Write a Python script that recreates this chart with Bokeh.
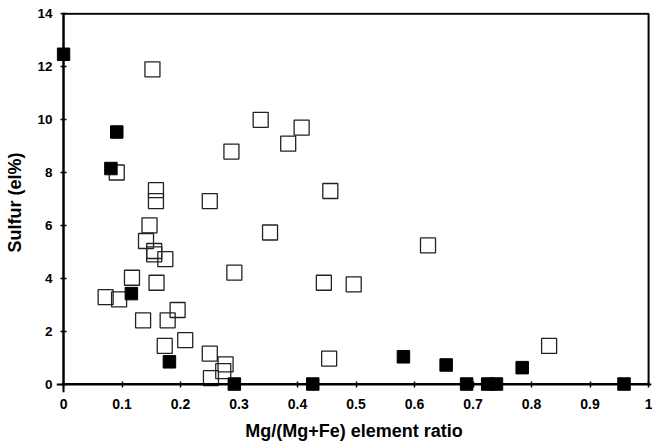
from bokeh.plotting import figure
from bokeh.models import FixedTicker, Range1d, BoxAnnotation, LinearAxis
from bokeh.embed import file_html
from bokeh.resources import INLINE

# Open squares
open_x = [0.152, 0.091, 0.158, 0.158, 0.250, 0.287, 0.337, 0.384, 0.407, 0.456,
          0.147, 0.141, 0.155, 0.155, 0.174, 0.117, 0.159, 0.072, 0.095, 0.136,
          0.178, 0.195, 0.208, 0.173, 0.250, 0.277, 0.273, 0.252, 0.292, 0.353,
          0.445, 0.454, 0.623, 0.496, 0.830]
open_y = [11.9, 8.0, 7.33, 6.92, 6.92, 8.79, 9.99, 9.09, 9.70, 7.30,
          6.0, 5.41, 5.03, 4.90, 4.72, 4.02, 3.83, 3.29, 3.20, 2.41,
          2.41, 2.80, 1.66, 1.44, 1.15, 0.74, 0.49, 0.22, 4.21, 5.73,
          3.83, 0.96, 5.24, 3.77, 1.44]

# Filled squares
fill_x = [0.0, 0.091, 0.081, 0.116, 0.181, 0.292, 0.426, 0.581, 0.654, 0.689,
          0.725, 0.740, 0.784, 0.958]
fill_y = [12.47, 9.53, 8.15, 3.42, 0.84, 0.0, 0.0, 1.03, 0.72, 0.0,
          0.0, 0.0, 0.62, 0.0]

x_ticks = [0, 0.1, 0.2, 0.3, 0.4, 0.5, 0.6, 0.7, 0.8, 0.9, 1.0]
x_tick_labels = ["0", "0.1", "0.2", "0.3", "0.4", "0.5", "0.6", "0.7", "0.8", "0.9", "1"]
y_ticks = [0, 2, 4, 6, 8, 10, 12, 14]
y_tick_labels = ["0", "2", "4", "6", "8", "10", "12", "14"]

p = figure(frame_width=595, frame_height=380,
           output_backend="svg", toolbar_location=None,
           x_range=Range1d(-0.012, 1.005), y_range=Range1d(-0.32, 14.05),
           min_border_left=56, min_border_right=1, min_border_top=12, min_border_bottom=50)
p.background_fill_color = "white"
p.border_fill_color = "white"
p.outline_line_color = None
p.xgrid.visible = False
p.ygrid.visible = False

# chart box (top and right edges; left/bottom coincide with the axes)
p.add_layout(BoxAnnotation(left=0, right=1, bottom=0, top=14, fill_alpha=0,
                           line_color="black", line_alpha=1.0, line_width=2))

p.scatter(open_x, open_y, marker="square", size=15, fill_color="white",
          fill_alpha=0.0, line_color="#222222", line_width=1.3)
p.scatter(fill_x, fill_y, marker="square", size=12.5, fill_color="black",
          line_color="black", line_width=1)

# axes drawn at data 0 (line + ticks)
for ax, ticks in ((p.xaxis[0], x_ticks), (p.yaxis[0], y_ticks)):
    ax.fixed_location = 0
    ax.ticker = FixedTicker(ticks=ticks, num_minor_ticks=5)
    ax.major_label_text_alpha = 0
    ax.major_label_text_font_size = "1px"
    ax.axis_line_width = 2
    ax.axis_line_color = "black"
    ax.major_tick_line_color = "black"
    ax.minor_tick_line_color = "#555555"
    ax.major_tick_line_width = 1.5
    ax.minor_tick_line_width = 1
    ax.major_tick_out = 3
    ax.major_tick_in = 3
    ax.minor_tick_out = 0
    ax.minor_tick_in = 3

# label axes (text only)
xlab = LinearAxis(axis_label="Mg/(Mg+Fe) element ratio")
ylab = LinearAxis(axis_label="Sulfur (el%)")
p.add_layout(xlab, "below")
p.add_layout(ylab, "left")
for ax, ticks, labels in ((xlab, x_ticks, x_tick_labels), (ylab, y_ticks, y_tick_labels)):
    ax.ticker = FixedTicker(ticks=ticks, num_minor_ticks=0)
    ax.major_label_overrides = {t: l for t, l in zip(ticks, labels)}
    ax.axis_line_color = None
    ax.major_tick_line_color = None
    ax.minor_tick_line_color = None
    ax.major_tick_out = 0
    ax.major_tick_in = 0
    ax.minor_tick_out = 0
    ax.minor_tick_in = 0
    ax.major_label_text_font = "Liberation Sans"
    ax.major_label_text_font_style = "bold"
    ax.major_label_text_color = "black"
    ax.axis_label_text_font = "Liberation Sans"
    ax.axis_label_text_font_style = "bold"
    ax.axis_label_text_font_size = "18px"
    ax.axis_label_text_color = "black"

xlab.major_label_text_font_size = "14px"
ylab.major_label_text_font_size = "13.5px"
xlab.major_label_standoff = 6
ylab.major_label_standoff = 4
xlab.axis_label_standoff = 9
ylab.axis_label_standoff = 9

open("out.html", "w").write(file_html(p, INLINE))
